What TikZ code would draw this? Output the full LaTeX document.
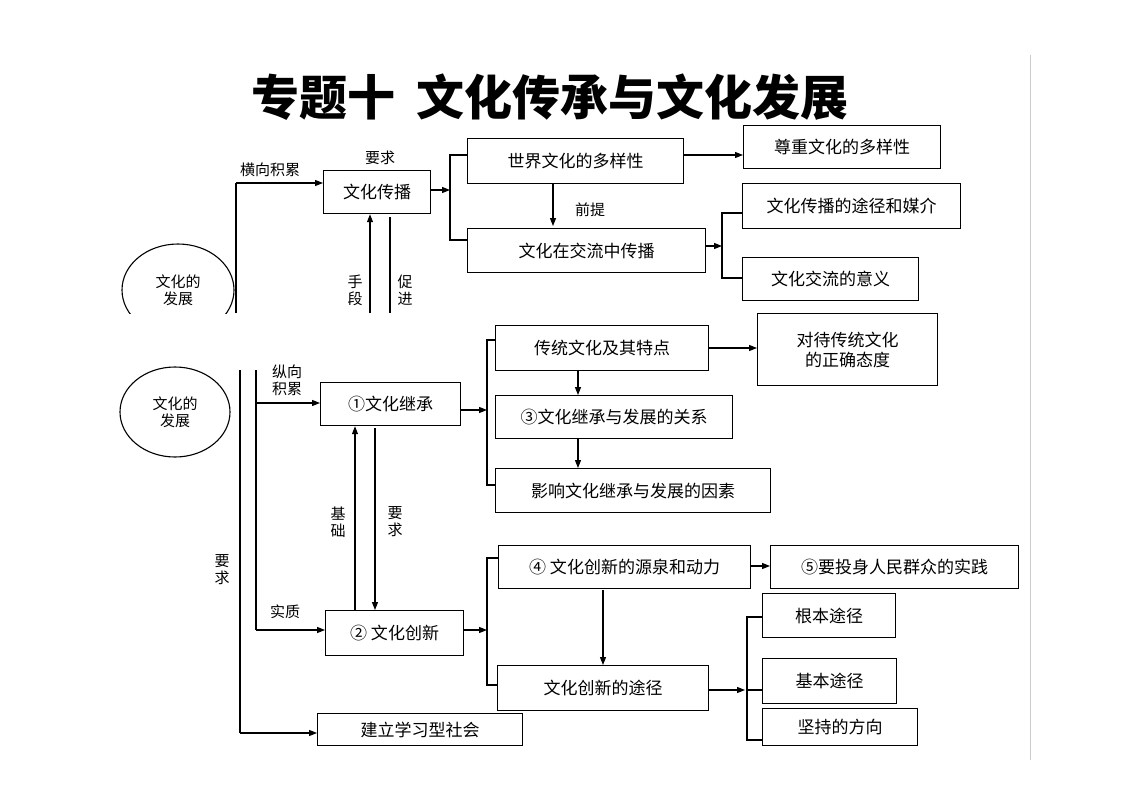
\documentclass[tikz,border=0pt]{standalone}
\usepackage{fontspec}
\setmainfont{Noto Sans CJK SC}
\usetikzlibrary{arrows.meta}
\begin{document}
\begin{tikzpicture}[x=1pt,y=-1pt,
  box/.style={draw,line width=1.2pt,inner sep=0pt,anchor=north west},
  lab/.style={font=\fontsize{15}{17}\selectfont,align=center,inner sep=0pt},
  ar/.style={-{Triangle[length=8pt,width=6pt]},line width=1.1pt},
  ln/.style={line width=1.1pt}]
\useasboundingbox (0,0) rectangle (1131,800);
\fill[white] (0,0) rectangle (1131,800);
\draw[gray!40,line width=1pt] (1030,55) -- (1030,760);
\node[font=\fontsize{48}{52}\selectfont\bfseries] (title) at (550,97) {专题十\ \ 文化传承与文化发展};
\newcommand{\bx}[6]{\node[box,minimum width=#4-#2,minimum height=#5-#3] (#1) at (#2,#3) {}; \node[font=\fontsize{17}{20}\selectfont,align=center] at (#1.center) {#6};}
% top section
\begin{scope}
\clip (0,0) rectangle (1131,313);
\draw[line width=1.1pt] (178,290) ellipse [x radius=56, y radius=46];
\end{scope}
\node[lab] (e1) at (178,290) {文化的\\发展};
\coordinate (t0) at (236,313);
\bx{cb}{323}{170}{430}{213}{文化传播}
\draw[ln] (t0) -- (236,183) coordinate (t1);
\draw[ar] (t1) -- (cb.west|-t1);
\node[lab] at (270,170) {横向积累};
\node[lab] at (380,158) {要求};
\coordinate (s1) at (370,313);
\coordinate (s2) at (390,313);
\draw[ar] (s1) -- (s1|-cb.south);
\draw[ln] (s2|-cb.south) ++(0,3) -- (s2);
\node[lab] at (355,290) {手\\段};
\node[lab] at (405,290) {促\\进};
\bx{dy}{467}{138}{683}{183}{世界文化的多样性}
\bx{zz}{743}{125}{940}{168}{尊重文化的多样性}
\bx{jl}{467}{228}{705}{272}{文化在交流中传播}
\bx{tj}{742}{183}{960}{228}{文化传播的途径和媒介}
\bx{yy}{742}{257}{918}{300}{文化交流的意义}
\coordinate (b1) at (450,190);
\draw[ar] (cb.east|-b1) -- (b1);
\draw[ln] (dy.west|-0,155) -- (450,155) -- (450,240) -- (jl.west|-0,240);
\draw[ar] (dy.east|-0,155) -- (zz.west|-0,155);
\draw[ar] (553,183) -- (553,226);
\node[lab] at (590,210) {前提};
\coordinate (b2) at (722,246);
\draw[ar] (jl.east|-b2) -- (b2);
\draw[ln] (tj.west|-0,213) -- (722,213) -- (722,278) -- (yy.west|-0,278);
% bottom section
\draw[line width=1.1pt] (175,412) ellipse [x radius=55, y radius=45];
\node[lab] (e2) at (175,412) {文化的\\发展};
\bx{jc}{320}{382}{460}{425}{①文化继承}
\bx{cx}{325}{610}{463}{655}{② 文化创新}
\bx{xx}{317}{713}{522}{745}{建立学习型社会}
\coordinate (v1) at (240,370);
\draw[ln] (v1) -- (240,733) coordinate (v2);
\draw[ar] (v2) -- (xx.west|-v2);
\node[lab] at (222,570) {要\\求};
\coordinate (w1) at (256,370);
\draw[ln] (w1) -- (256,630) coordinate (w2);
\draw[ar] (w2) -- (cx.west|-w2);
\draw[ar] (256,403) coordinate (w3) -- (jc.west|-w3);
\node[lab] at (287,380) {纵向\\积累};
\node[lab] at (285,612) {实质};
\draw[ar] (355,610) coordinate (u1) -- (u1|-jc.south);
\draw[ar] (375,428) coordinate (u2) -- (u2|-cx.north);
\node[lab] at (338,522) {基\\础};
\node[lab] at (395,522) {要\\求};
\bx{ct}{495}{325}{708}{370}{传统文化及其特点}
\bx{td}{757}{313}{937}{385}{对待传统文化\\的正确态度}
\bx{gx}{495}{395}{732}{438}{③文化继承与发展的关系}
\bx{ys}{495}{468}{770}{512}{影响文化继承与发展的因素}
\draw[ar] (jc.east|-0,410) -- (487,410);
\draw[ln] (ct.west|-0,340) -- (487,340) -- (487,485) -- (ys.west|-0,485);
\draw[ar] (ct.east|-0,348) -- (td.west|-0,348);
\draw[ar] (578,370) -- (gx.north-|578,0);
\draw[ar] (578,438) -- (ys.north-|578,0);
\bx{yq}{498}{545}{750}{588}{④ 文化创新的源泉和动力}
\bx{sj}{770}{545}{1018}{588}{⑤要投身人民群众的实践}
\bx{tj2}{497}{665}{708}{710}{文化创新的途径}
\bx{gb}{762}{593}{895}{637}{根本途径}
\bx{jb}{762}{658}{896}{703}{基本途径}
\bx{fx}{762}{708}{917}{745}{坚持的方向}
\draw[ar] (cx.east|-0,630) -- (487,630);
\draw[ln] (yq.west|-0,558) -- (487,558) -- (487,685) -- (tj2.west|-0,685);
\draw[ar] (yq.east|-0,566) -- (sj.west|-0,566);
\draw[ar] (603,590) -- (tj2.north-|603,0);
\draw[ar] (tj2.east|-0,690) -- (745,690);
\draw[ln] (gb.west|-0,617) -- (747,617) -- (747,740) -- (fx.west|-0,740);
\draw[ln] (747,690) -- (jb.west|-0,690);
\end{tikzpicture}
\end{document}
